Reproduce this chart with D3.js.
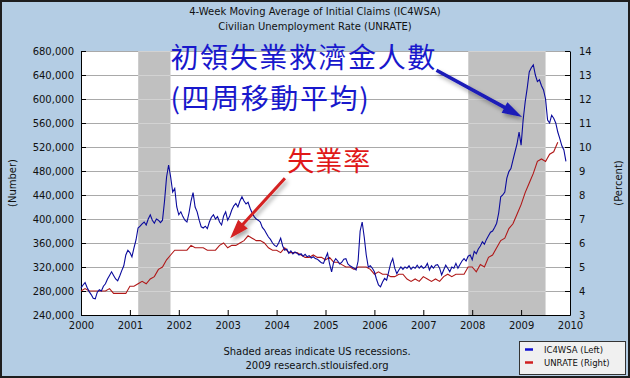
<!DOCTYPE html>
<html>
<head>
<meta charset="utf-8">
<script src="https://cdn.jsdelivr.net/npm/d3@7"></script>
<style>
  body { margin: 0; background: #fff; }
  svg { display: block; }
</style>
</head>
<body>
<div id="chart"></div>
<script>
const WIDTH = 630;
const HEIGHT = 378;
const PLOT = {left: 81, right: 570, top: 51, bottom: 315};

// tick values
const yearTicks = [2000, 2001, 2002, 2003, 2004, 2005, 2006, 2007, 2008, 2009, 2010];
const claimTicks = [240, 280, 320, 360, 400, 440, 480, 520, 560, 600, 640, 680];
const rateTicks = [3, 4, 5, 6, 7, 8, 9, 10, 11, 12, 13, 14];

// recessions (decimal years)
const recessions = [[2001.17, 2001.83], [2007.92, 2009.5]];

// IC4WSA, thousands, two readings per month from Jan 2000
const claims2000 = [285,290,294,286,279,274,268,267,278,282,280,288,292,300,306,312,306,300,297,305,314,322,340,348];
const claims2001 = [344,337,352,365,385,388,392,395,390,400,407,398,393,400,398,394,398,430,470,490,470,445,451,420];
const claims2002 = [407,412,404,398,395,410,430,444,420,412,398,387,385,388,384,395,403,407,400,404,395,390,405,412];
const claims2003 = [398,405,415,422,426,420,430,437,430,425,428,418,410,404,400,398,395,386,382,376,370,366,360,356];
const claims2004 = [354,360,368,355,348,350,343,347,342,345,343,340,342,338,341,337,339,335,337,334,333,330,327,326];
const claims2005 = [335,343,325,312,328,334,330,325,328,333,334,325,322,320,318,315,330,380,395,370,340,320,322,318];
const claims2006 = [312,300,290,287,295,301,298,312,326,334,318,309,315,320,316,320,318,322,316,320,318,323,318,322];
const claims2007 = [318,320,326,315,322,318,323,324,318,307,315,323,318,312,320,318,326,318,324,330,334,330,338,340];
const claims2008 = [332,346,342,350,355,362,358,366,372,378,380,386,393,410,437,440,445,468,479,484,498,512,525,545];
const claims2009 = [523,565,595,618,645,652,657,640,629,632,622,615,600,565,560,573,568,560,545,534,522,515,496];

// UNRATE, percent, monthly from Jan 2000
const rate2000 = [4.0,4.1,4.0,4.0,4.0,4.0,4.0,4.1,3.9,3.9,3.9,3.9];
const rate2001 = [4.2,4.2,4.3,4.4,4.3,4.5,4.6,4.9,5.0,5.3,5.5,5.7];
const rate2002 = [5.7,5.7,5.7,5.9,5.8,5.8,5.8,5.7,5.7,5.7,5.9,6.0];
const rate2003 = [5.8,5.9,5.9,6.0,6.1,6.3,6.2,6.1,6.1,6.0,5.8,5.7];
const rate2004 = [5.7,5.6,5.8,5.6,5.6,5.6,5.5,5.4,5.4,5.5,5.4,5.4];
const rate2005 = [5.3,5.4,5.2,5.2,5.1,5.0,5.0,4.9,5.0,5.0,5.0,4.9];
const rate2006 = [4.7,4.8,4.7,4.7,4.6,4.6,4.7,4.7,4.5,4.4,4.5,4.4];
const rate2007 = [4.6,4.5,4.4,4.5,4.4,4.6,4.7,4.6,4.7,4.7,4.7,5.0];
const rate2008 = [5.0,4.8,5.1,5.0,5.4,5.5,5.8,6.1,6.2,6.6,6.8,7.2];
const rate2009 = [7.6,8.1,8.5,8.9,9.4,9.5,9.4,9.7,9.8,10.2];

const claims = [].concat(claims2000, claims2001, claims2002, claims2003, claims2004,
  claims2005, claims2006, claims2007, claims2008, claims2009)
  .map((v, i) => ({t: 2000 + i / 24, v: v}));
const rates = [].concat(rate2000, rate2001, rate2002, rate2003, rate2004,
  rate2005, rate2006, rate2007, rate2008, rate2009)
  .map((v, i) => ({t: 2000 + i / 12, v: v}));

const FONT = "'DejaVu Sans', Verdana, sans-serif";
const CJK = "'Noto Sans CJK TC', 'Noto Sans CJK SC', sans-serif";

let svg = d3.select("#chart")
  .append("svg")
    .attr("width", WIDTH)
    .attr("height", HEIGHT);

// shadow for the arrows
let defs = svg.append("defs");
let shadow = defs.append("filter").attr("id", "shadow")
  .attr("x", "-20%").attr("y", "-20%").attr("width", "140%").attr("height", "140%");
shadow.append("feDropShadow")
  .attr("dx", 2).attr("dy", 3).attr("stdDeviation", 2)
  .attr("flood-color", "#000").attr("flood-opacity", 0.35);

// background + frame
svg.append("rect")
  .attr("x", 1).attr("y", 1)
  .attr("width", WIDTH - 2).attr("height", HEIGHT - 2)
  .attr("fill", "#b4cde4")
  .attr("stroke", "#1e1e1e")
  .attr("stroke-width", 2);

let x = d3.scaleLinear().domain([2000, 2010]).range([PLOT.left, PLOT.right]);
let yL = d3.scaleLinear().domain([240, 680]).range([PLOT.bottom, PLOT.top]);
let yR = d3.scaleLinear().domain([3, 14]).range([PLOT.bottom, PLOT.top]);

// plot area
svg.append("rect")
  .attr("x", PLOT.left).attr("y", PLOT.top)
  .attr("width", PLOT.right - PLOT.left)
  .attr("height", PLOT.bottom - PLOT.top)
  .attr("fill", "#fff");

// gridlines
svg.append("g")
  .selectAll("line")
  .data(claimTicks.slice(1))
  .join("line")
    .attr("x1", PLOT.left).attr("x2", PLOT.right)
    .attr("y1", d => Math.round(yL(d)) + 0.5)
    .attr("y2", d => Math.round(yL(d)) + 0.5)
    .attr("stroke", "#a9a9a9");

// recession shading
svg.append("g")
  .selectAll("rect")
  .data(recessions)
  .join("rect")
    .attr("x", d => x(d[0]))
    .attr("width", d => x(d[1]) - x(d[0]))
    .attr("y", PLOT.top)
    .attr("height", PLOT.bottom - PLOT.top)
    .attr("fill", "#c0c0c0");

// gridlines inside the shading show lighter
recessions.forEach(r => {
  svg.append("g")
    .selectAll("line")
    .data(claimTicks.slice(1))
    .join("line")
      .attr("x1", x(r[0])).attr("x2", x(r[1]))
      .attr("y1", d => Math.round(yL(d)) + 0.5)
      .attr("y2", d => Math.round(yL(d)) + 0.5)
      .attr("stroke", "#d2d2d2");
});

// axes
let axisL = svg.append("g")
  .attr("transform", "translate(" + PLOT.left + ",0)")
  .call(d3.axisLeft(yL).tickValues(claimTicks)
    .tickSizeInner(-5).tickSizeOuter(0).tickPadding(7)
    .tickFormat(d => d3.format(",")(d * 1000)));
let axisR = svg.append("g")
  .attr("transform", "translate(" + PLOT.right + ",0)")
  .call(d3.axisRight(yR).tickValues(rateTicks)
    .tickSizeInner(-5).tickSizeOuter(0).tickPadding(7)
    .tickFormat(d3.format("d")));
let axisB = svg.append("g")
  .attr("transform", "translate(0," + PLOT.bottom + ")")
  .call(d3.axisBottom(x).tickValues(yearTicks)
    .tickSizeInner(-5).tickSizeOuter(0).tickPadding(7)
    .tickFormat(d3.format("d")));

[axisL, axisR, axisB].forEach(a => {
  a.select(".domain").attr("stroke", "#000");
  a.selectAll(".tick line").attr("stroke", "#000");
  a.selectAll("text").attr("font-family", FONT).attr("font-size", 10).attr("fill", "#111");
});
axisR.selectAll(".tick text").attr("dx", 2);

// series
let line = (ys) => d3.line().x(d => x(d.t)).y(d => ys(d.v));

svg.append("path")
  .datum(rates)
  .attr("fill", "none")
  .attr("stroke", "#b01818")
  .attr("stroke-width", 1.1)
  .attr("d", line(yR));

svg.append("path")
  .datum(claims)
  .attr("fill", "none")
  .attr("stroke", "#0a0a9c")
  .attr("stroke-width", 1.1)
  .attr("d", line(yL));

// titles
svg.append("text")
  .attr("x", 315).attr("y", 15)
  .attr("text-anchor", "middle")
  .attr("font-family", FONT).attr("font-size", 10).attr("fill", "#111")
  .text("4-Week Moving Average of Initial Claims (IC4WSA)");
svg.append("text")
  .attr("x", 315).attr("y", 30)
  .attr("text-anchor", "middle")
  .attr("font-family", FONT).attr("font-size", 10).attr("fill", "#111")
  .text("Civilian Unemployment Rate (UNRATE)");

svg.append("text")
  .attr("transform", "translate(16," + (PLOT.top + PLOT.bottom) / 2 + ") rotate(-90)")
  .attr("text-anchor", "middle")
  .attr("font-family", FONT).attr("font-size", 10).attr("fill", "#111")
  .text("(Number)");
svg.append("text")
  .attr("transform", "translate(622," + (PLOT.top + PLOT.bottom) / 2 + ") rotate(-90)")
  .attr("text-anchor", "middle")
  .attr("font-family", FONT).attr("font-size", 10).attr("fill", "#111")
  .text("(Percent)");

svg.append("text")
  .attr("x", 317).attr("y", 355)
  .attr("text-anchor", "middle")
  .attr("font-family", FONT).attr("font-size", 10).attr("fill", "#111")
  .text("Shaded areas indicate US recessions.");
svg.append("text")
  .attr("x", 317).attr("y", 369)
  .attr("text-anchor", "middle")
  .attr("font-family", FONT).attr("font-size", 10).attr("fill", "#111")
  .text("2009 research.stlouisfed.org");

// legend
let legend = svg.append("g");
legend.append("rect")
  .attr("x", 519.5).attr("y", 341.5)
  .attr("width", 106).attr("height", 33)
  .attr("fill", "#f0f0f0")
  .attr("stroke", "#333");
[["IC4WSA (Left)", "#1010d0"], ["UNRATE (Right)", "#d02020"]].forEach((d, i) => {
  legend.append("line")
    .attr("x1", 525).attr("x2", 533)
    .attr("y1", 349.5 + i * 13).attr("y2", 349.5 + i * 13)
    .attr("stroke", d[1]).attr("stroke-width", 2.5);
  legend.append("text")
    .attr("x", 544).attr("y", 353 + i * 13)
    .attr("font-family", FONT).attr("font-size", 8.5).attr("fill", "#111")
    .text(d[0]);
});

// annotations
function arrowPoints(x1, y1, x2, y2, w, hl, hw) {
  let dx = x2 - x1, dy = y2 - y1, len = Math.hypot(dx, dy);
  let ux = dx / len, uy = dy / len, px = -uy, py = ux;
  let bx = x2 - ux * hl, by = y2 - uy * hl;
  return [
    [x1 + px * w / 2, y1 + py * w / 2],
    [bx + px * w / 2, by + py * w / 2],
    [bx + px * hw / 2, by + py * hw / 2],
    [x2, y2],
    [bx - px * hw / 2, by - py * hw / 2],
    [bx - px * w / 2, by - py * w / 2],
    [x1 - px * w / 2, y1 - py * w / 2]
  ];
}

svg.append("text")
  .attr("x", x(2001.83)).attr("y", yL(651))
  .attr("font-family", CJK).attr("font-size", 28)
  .attr("letter-spacing", 1.6)
  .attr("fill", "#1818cc")
  .text("初領失業救濟金人數");
svg.append("text")
  .attr("x", x(2001.83)).attr("y", yL(584))
  .attr("font-family", CJK).attr("font-size", 28)
  .attr("letter-spacing", 1.6)
  .attr("fill", "#1818cc")
  .text("(四周移動平均)");
svg.append("text")
  .attr("x", x(2004.22)).attr("y", yR(9.0))
  .attr("font-family", CJK).attr("font-size", 27)
  .attr("letter-spacing", 1)
  .attr("fill", "#e01818")
  .text("失業率");

svg.append("polygon")
  .attr("points", arrowPoints(x(2007.27), yL(648), x(2009.02), yL(570), 3.5, 20, 12).join(" "))
  .attr("fill", "#1a1ab8")
  .attr("filter", "url(#shadow)");
svg.append("polygon")
  .attr("points", arrowPoints(x(2004.17), yR(8.7), x(2003.05), yR(6.2), 3, 19, 13).join(" "))
  .attr("fill", "#d42020")
  .attr("filter", "url(#shadow)");
</script>
</body>
</html>
